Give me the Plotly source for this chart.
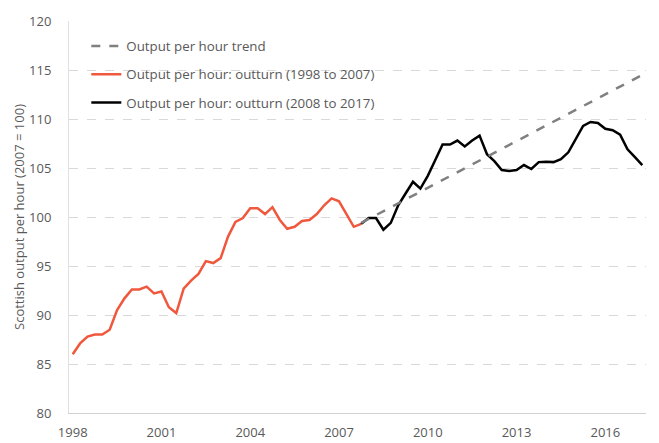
import plotly.graph_objects as go

# Quarterly categories 1998 Q1 .. 2017 Q2
years = list(range(1998, 2018))
quarters = [f"{y} Q{q}" for y in years for q in range(1, 5)][:78]

outturn_1998_2007 = [86.0, 87.1, 87.8, 88.0, 88.0, 88.5, 90.5, 91.7, 92.6, 92.6,
                     92.9, 92.2, 92.4, 90.8, 90.2, 92.7, 93.5, 94.2, 95.5, 95.3,
                     95.8, 98.0, 99.5, 99.9, 100.9, 100.9, 100.3, 101.0, 99.7, 98.8,
                     99.0, 99.6, 99.7, 100.3, 101.2, 101.9, 101.6, 100.3, 99.0, 99.3]
outturn_2008_2017 = [99.3, 99.9, 99.9, 98.7, 99.4, 101.2, 102.4, 103.6, 102.9, 104.2,
                     105.8, 107.4, 107.4, 107.8, 107.2, 107.8, 108.3, 106.4, 105.7, 104.8,
                     104.7, 104.8, 105.3, 104.9, 105.6, 105.65, 105.6, 105.9, 106.6, 107.9,
                     109.3, 109.7, 109.6, 109.0, 108.85, 108.4, 106.9, 106.1, 105.3]
trend_x = ["2007 Q4", "2017 Q2"]
trend_y = [99.4, 114.5]

y_ticks = [80, 85, 90, 95, 100, 105, 110, 115, 120]
x_tickvals = ["1998 Q1", "2001 Q1", "2004 Q1", "2007 Q1", "2010 Q1", "2013 Q1", "2016 Q1"]
x_ticktext = ["1998", "2001", "2004", "2007", "2010", "2013", "2016"]

x_orange = quarters[:len(outturn_1998_2007)]
x_black = quarters[len(outturn_1998_2007) - 1:len(outturn_1998_2007) - 1 + len(outturn_2008_2017)]

txt = "#595959"
fig = go.Figure()
fig.add_trace(go.Scatter(x=x_orange, y=outturn_1998_2007, mode="lines",
                         name="Output per hour: outturn (1998 to 2007)",
                         line=dict(color="#F0583E", width=2.5), legendrank=2, legendgroup="b"))
fig.add_trace(go.Scatter(x=x_black, y=outturn_2008_2017, mode="lines",
                         name="Output per hour: outturn (2008 to 2017)",
                         line=dict(color="#000000", width=2.5), legendrank=3, legendgroup="c"))
fig.add_trace(go.Scatter(x=trend_x, y=trend_y, mode="lines",
                         name="Output per hour trend",
                         line=dict(color="#808080", width=2.5, dash="dash"), legendrank=1, legendgroup="a"))

# page body has an 8px margin, so the figure is sized to fit inside the window
fig.update_layout(
    width=651, height=435,
    margin=dict(l=61, r=13, t=13, b=30, autoexpand=False),
    plot_bgcolor="white", paper_bgcolor="white",
    font=dict(family="Open Sans", size=13, color=txt),
    showlegend=True,
    legend=dict(x=0.03, y=0.975, xanchor="left", yanchor="top",
                bgcolor="rgba(0,0,0,0)", tracegroupgap=8,
                font=dict(size=13.3, color=txt)),
    xaxis=dict(type="category", categoryorder="array", categoryarray=quarters,
               range=[-0.5, 77.5], tickmode="array", tickvals=x_tickvals, ticktext=x_ticktext,
               showgrid=False, showline=True, linecolor="#d0d0d0", linewidth=1,
               ticks="", zeroline=False, automargin=False, ticklabelstandoff=7,
               tickfont=dict(size=13, color=txt)),
    yaxis=dict(range=[80, 120], tickvals=y_ticks, showgrid=True, gridcolor="#d9d9d9",
               griddash="dash", gridwidth=1, showline=True, linecolor="#e0e0e0",
               zeroline=False, ticks="", ticklabelstandoff=14, automargin=True,
               title=dict(text="Scottish output per hour (2007 = 100)", standoff=1,
                          font=dict(size=13, color=txt)),
               tickfont=dict(size=13, color=txt)),
)

fig.write_html("out.html")
